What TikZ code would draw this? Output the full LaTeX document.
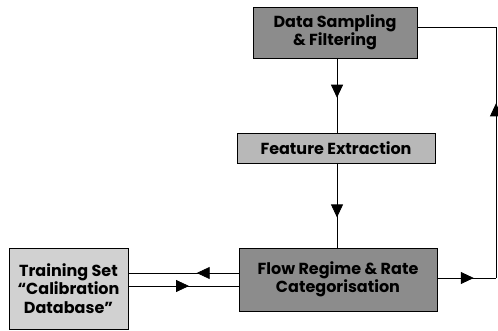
\documentclass[tikz,border=0pt]{standalone}
\usepackage{fontspec}
\setmainfont{Poppins}
\usetikzlibrary{arrows.meta,decorations.markings}
\tikzset{
  blk/.style={draw=black, line width=0.9pt, align=center, font=\bfseries\fontsize{16}{18.5}\selectfont, inner sep=0pt},
  conn/.style={line width=0.8pt},
  midarrow/.style={postaction={decorate}, decoration={markings, mark=at position #1 with {\arrow{Triangle[length=13pt,width=12pt]}}}}
}
\begin{document}
\begin{tikzpicture}[x=1pt,y=-1pt]
\useasboundingbox (0,0) rectangle (498,331);
\node[blk, fill=black!45, minimum width=164pt, minimum height=51pt] (ds) at (335,32.5) {Data Sampling\\ \& Filtering};
\node[blk, fill=black!28, minimum width=198pt, minimum height=30pt] (fe) at (336,148) {Feature Extraction};
\node[blk, fill=black!45, minimum width=198pt, minimum height=63pt] (fr) at (338,279.5) {Flow Regime \& Rate\\ Categorisation};
\node[blk, fill=black!18, minimum width=119pt, minimum height=81pt] (ts) at (68.5,288.5) {Training Set\\ ``Calibration\\ Database''};
\coordinate (r1) at (496,27);
\coordinate (r2) at (496,278);
\draw[conn, midarrow=0.53] (337,58) -- (337,133);
\draw[conn, midarrow=0.64] (337,163) -- (337,248);
\draw[conn, midarrow=0.62] (fr.east |- 0,278) -- (r2);
\draw[conn, midarrow=0.53] (r2) -- (r1) -- (ds.east |- r1);
\draw[conn, midarrow=0.38] (fr.west |- 0,273) -- (ts.east |- 0,273);
\draw[conn, midarrow=0.55] (ts.east |- 0,286) -- (fr.west |- 0,286);
\end{tikzpicture}
\end{document}
